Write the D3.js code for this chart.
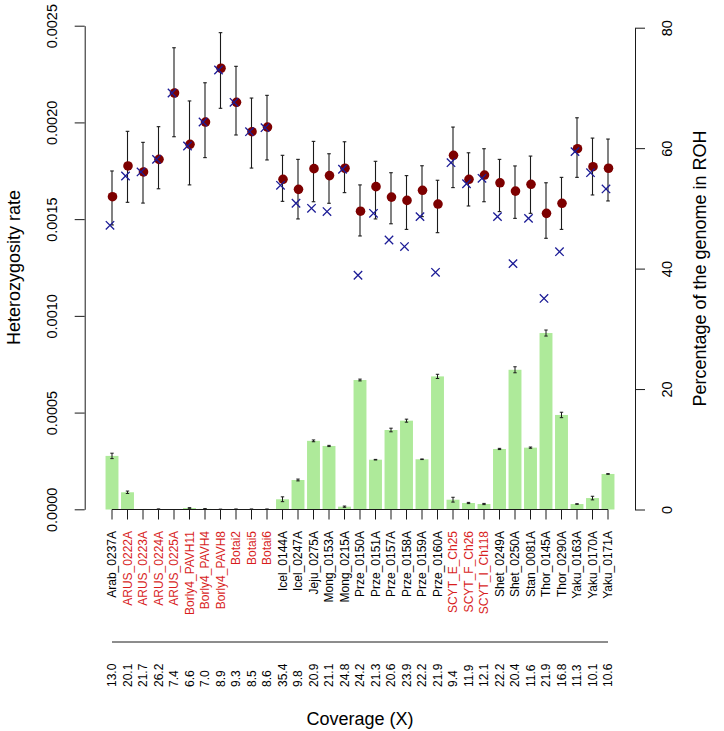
<!DOCTYPE html>
<html><head><meta charset="utf-8">
<script src="https://cdn.jsdelivr.net/npm/d3@7"></script>
<style>body{margin:0;background:#fff}svg{display:block;font-family:"Liberation Sans",Arial,sans-serif}</style>
</head><body><svg id="c" width="724" height="731"></svg>
<script>
const samples = ["Arab_0237A","ARUS_0222A","ARUS_0223A","ARUS_0224A","ARUS_0225A","Borly4_PAVH11","Borly4_PAVH4","Borly4_PAVH8","Botai2","Botai5","Botai6","Icel_0144A","Icel_0247A","Jeju_0275A","Mong_0153A","Mong_0215A","Prze_0150A","Prze_0151A","Prze_0157A","Prze_0158A","Prze_0159A","Prze_0160A","SCYT_E_Ch25","SCYT_F_Ch26","SCYT_I_Ch118","Shet_0249A","Shet_0250A","Stan_0081A","Thor_0145A","Thor_0290A","Yaku_0163A","Yaku_0170A","Yaku_0171A"];
const ancient = [false,true,true,true,true,true,true,true,true,true,true,false,false,false,false,false,false,false,false,false,false,false,true,true,true,false,false,false,false,false,false,false,false];
const coverage = ["13.0","20.1","21.7","26.2","7.4","6.6","7.0","8.9","9.3","8.5","8.6","35.4","9.8","20.9","21.1","24.8","24.2","21.3","20.6","23.9","22.2","21.9","9.4","11.9","12.1","22.2","20.4","11.6","21.9","16.8","11.3","10.1","10.6"];
// heterozygosity (circles) with interval
const het = [0.001616,0.001775,0.001744,0.001809,0.002152,0.001887,0.002002,0.002280,0.002104,0.001952,0.001976,0.001706,0.001654,0.001761,0.001725,0.001763,0.001541,0.001668,0.001614,0.001597,0.001649,0.001578,0.001830,0.001706,0.001728,0.001688,0.001645,0.001680,0.001530,0.001582,0.001864,0.001771,0.001763];
const hetLow = [0.001470,0.001587,0.001583,0.001657,0.001926,0.001677,0.001818,0.002073,0.001935,0.001764,0.001806,0.001592,0.001501,0.001590,0.001582,0.001637,0.001413,0.001501,0.001476,0.001447,0.001513,0.001430,0.001663,0.001568,0.001590,0.001539,0.001504,0.001530,0.001401,0.001447,0.001716,0.001625,0.001594];
const hetHigh = [0.001749,0.001954,0.001897,0.001978,0.002386,0.002111,0.002205,0.002464,0.002290,0.002126,0.002140,0.001830,0.001809,0.001902,0.001838,0.001900,0.001677,0.001799,0.001740,0.001725,0.001776,0.001701,0.001976,0.001843,0.001864,0.001809,0.001775,0.001826,0.001688,0.001716,0.002024,0.001919,0.001914];
// second heterozygosity estimate (crosses)
const hetX = [0.001468,0.001723,0.001744,0.001809,0.002152,0.001878,0.002002,0.002271,0.002104,0.001952,0.001973,0.001675,0.001582,0.001556,0.001539,0.001758,0.001210,0.001530,0.001392,0.001358,0.001513,0.001225,0.001792,0.001683,0.001711,0.001513,0.001270,0.001504,0.001090,0.001332,0.001849,0.001740,0.001656];
// percentage of genome in ROH (bars) and error
const roh = [8.9,2.86,0.0,0.05,0.0,0.25,0.1,0.03,0.05,0.05,0.05,1.7,4.9,11.4,10.55,0.47,21.5,8.27,13.2,14.75,8.34,22.1,1.63,1.08,0.91,10.05,23.2,10.27,29.3,15.7,0.91,1.9,5.9];
const rohErr = [0.45,0.2,0,0.05,0,0.05,0.05,0.03,0.03,0.03,0.03,0.4,0.15,0.15,0.1,0.1,0.15,0.05,0.3,0.25,0.05,0.35,0.4,0.1,0.1,0.1,0.5,0.1,0.5,0.45,0.05,0.3,0.05];
const leftTicks = [0,0.0005,0.0010,0.0015,0.0020,0.0025];
const rightTicks = [0,20,40,60,80];

const svg = d3.select("#c");
svg.append("rect").attr("width",724).attr("height",731).attr("fill","#fff");
const x = d3.scaleBand().domain(samples).range([104.25,615.75]).paddingInner(1/6).paddingOuter(1/12);
const cx = d => x(d) + x.bandwidth()/2;
const yL = d3.scaleLinear().domain([0,0.0025]).range([509.3,25.7]);
const yR = d3.scaleLinear().domain([0,80]).range([509.5,27.7]);
const ink = "#1a1a1a";

svg.append("g").selectAll("rect").data(samples).join("rect")
  .attr("x", d=>x(d)).attr("width", x.bandwidth())
  .attr("y", (d,i)=>yR(roh[i])).attr("height",(d,i)=>yR(0)-yR(roh[i]))
  .attr("fill","#aeea9a");
const be = svg.append("g").attr("stroke",ink).attr("stroke-width",1);
samples.forEach((s,i)=>{
  if (roh[i]<=0) return;
  const c=cx(s), y1=yR(roh[i]-rohErr[i]), y2=yR(roh[i]+rohErr[i]);
  be.append("line").attr("x1",c).attr("x2",c).attr("y1",y1).attr("y2",y2);
  be.append("line").attr("x1",c-1.7).attr("x2",c+1.7).attr("y1",y1).attr("y2",y1);
  be.append("line").attr("x1",c-1.7).attr("x2",c+1.7).attr("y1",y2).attr("y2",y2);
});
const he = svg.append("g").attr("stroke",ink).attr("stroke-width",1.1);
samples.forEach((s,i)=>{
  const c=cx(s), y1=yL(hetLow[i]), y2=yL(hetHigh[i]);
  he.append("line").attr("x1",c).attr("x2",c).attr("y1",y1).attr("y2",y2);
  he.append("line").attr("x1",c-1.8).attr("x2",c+1.8).attr("y1",y1).attr("y2",y1);
  he.append("line").attr("x1",c-1.8).attr("x2",c+1.8).attr("y1",y2).attr("y2",y2);
});
svg.append("g").selectAll("circle").data(samples).join("circle")
  .attr("cx", d=>cx(d)+0.5).attr("cy",(d,i)=>yL(het[i])).attr("r",4.8).attr("fill","#7d0000");
const cr = svg.append("g").attr("stroke","#1c1c96").attr("stroke-width",1.3);
samples.forEach((s,i)=>{
  const c=cx(s)-2, y=yL(hetX[i]), h=4.2;
  cr.append("path").attr("d",`M${c-h},${y-h}L${c+h},${y+h}M${c-h},${y+h}L${c+h},${y-h}`);
});

const gL = svg.append("g").attr("transform","translate(84.7,0)")
  .call(d3.axisLeft(yL).tickValues(leftTicks).tickSize(10).tickSizeOuter(0).tickFormat(d3.format(".4f")));
gL.selectAll("path,line").attr("stroke",ink);
gL.selectAll("text").attr("x",null).attr("dy",null).attr("y",-27.5).attr("transform","rotate(-90)")
  .attr("text-anchor","middle").attr("font-size",14.5).attr("fill","#000").attr("font-family","Liberation Sans, Arial, sans-serif");
const gR = svg.append("g").attr("transform","translate(635,0)")
  .call(d3.axisRight(yR).tickValues(rightTicks).tickSize(10).tickSizeOuter(0));
gR.selectAll("path,line").attr("stroke",ink);
gR.selectAll("text").attr("x",null).attr("dy",null).attr("y",37).attr("transform","rotate(-90)")
  .attr("text-anchor","middle").attr("font-size",14.5).attr("fill","#000").attr("font-family","Liberation Sans, Arial, sans-serif");
const gB = svg.append("g").attr("transform","translate(0,509.5)")
  .call(d3.axisBottom(x).tickSize(10).tickSizeOuter(0));
gB.select(".domain").remove();
gB.selectAll("line").attr("stroke",ink);
gB.append("line").attr("x1",cx(samples[0])).attr("x2",cx(samples[samples.length-1])).attr("stroke",ink);
gB.selectAll("text").attr("y",null).attr("dy","0.35em").attr("x",-21.5).attr("transform","rotate(-90)")
  .attr("text-anchor","end").attr("font-size",12).attr("font-family","Liberation Sans, Arial, sans-serif")
  .attr("fill",(d,i)=>ancient[samples.indexOf(d)]?"#d81e1e":"#000");
svg.append("line").attr("x1",cx(samples[0])).attr("x2",cx(samples[samples.length-1]))
  .attr("y1",642).attr("y2",642).attr("stroke",ink);
svg.append("g").selectAll("text").data(samples).join("text")
  .attr("transform",d=>`translate(${cx(d)},687) rotate(-90)`).attr("dy","0.35em")
  .attr("text-anchor","start").attr("font-size",12).attr("fill","#000")
  .text((d,i)=>coverage[i]);
svg.append("text").attr("transform","translate(20,267.5) rotate(-90)").attr("text-anchor","middle")
  .attr("font-size",18).text("Heterozygosity rate");
svg.append("text").attr("transform","translate(706,268.5) rotate(-90)").attr("text-anchor","middle")
  .attr("font-size",18).text("Percentage of the genome in ROH");
svg.append("text").attr("x",360).attr("y",725).attr("text-anchor","middle")
  .attr("font-size",18).text("Coverage (X)");
</script></body></html>
